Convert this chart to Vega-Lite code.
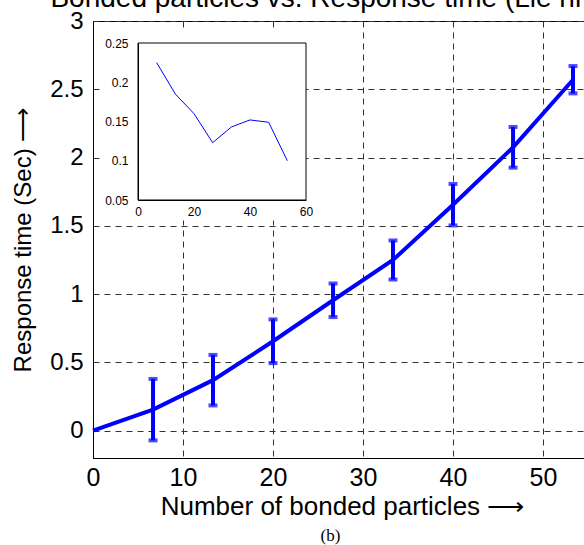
{
  "$schema": "https://vega.github.io/schema/vega-lite/v6.json",
  "width": 498,
  "height": 437,
  "autosize": {"type": "none"},
  "padding": {"left": 93, "top": 21, "right": 0, "bottom": 87},
  "background": "white",
  "title": {
    "text": "Bonded particles vs. Response time (Lie nm)",
    "font": "Liberation Sans",
    "fontSize": 28,
    "fontWeight": "normal",
    "color": "black",
    "baseline": "alphabetic",
    "offset": -26,
    "dx": -13,
    "frame": "group",
    "anchor": "middle"
  },
  "config": {
    "view": {"stroke": "black", "strokeWidth": 1},
    "font": "Liberation Sans"
  },
  "datasets": {
    "runs": [
      {"particles": 0, "time": 0, "err": null},
      {"particles": 6.67, "time": 0.154, "err": 0.225},
      {"particles": 13.33, "time": 0.37, "err": 0.185},
      {"particles": 20, "time": 0.655, "err": 0.16},
      {"particles": 26.67, "time": 0.955, "err": 0.123},
      {"particles": 33.33, "time": 1.25, "err": 0.143},
      {"particles": 40, "time": 1.655, "err": 0.152},
      {"particles": 46.67, "time": 2.075, "err": 0.149},
      {"particles": 53.33, "time": 2.57, "err": 0.1}
    ]
  },
  "data": {"name": "runs"},
  "resolve": {"scale": {"x": "independent", "y": "independent"}},
  "layer": [
    {
      "mark": {"type": "line", "color": "#0000ff", "strokeWidth": 4},
      "encoding": {
        "x": {
          "field": "particles", "type": "quantitative",
          "scale": {"domain": [0, 55.33], "nice": false, "zero": false},
          "axis": {
            "orient": "bottom",
            "values": [0, 10, 20, 30, 40, 50],
            "grid": true, "gridColor": "#333333", "gridDash": [6, 5], "gridWidth": 1,
            "domainColor": "black", "domainWidth": 1,
            "ticks": false,
            "labelFontSize": 25, "labelColor": "black", "labelPadding": 7, "labelFlush": false,
            "title": "Number of bonded particles ⟶",
            "titleFontSize": 26, "titleFontWeight": "normal", "titleColor": "black", "titlePadding": 3
          }
        },
        "y": {
          "field": "time", "type": "quantitative",
          "scale": {"domain": [-0.2, 3], "nice": false, "zero": false},
          "axis": {
            "orient": "left",
            "values": [0, 0.5, 1, 1.5, 2, 2.5, 3], "format": "~g",
            "grid": true, "gridColor": "#333333", "gridDash": [6, 5], "gridWidth": 1,
            "domainColor": "black", "domainWidth": 1,
            "ticks": false,
            "labelFontSize": 24, "labelColor": "black", "labelPadding": 10, "labelFlush": false,
            "title": "Response time (Sec) ⟶",
            "titleFontSize": 24, "titleFontWeight": "normal", "titleColor": "black", "titlePadding": 14
          }
        }
      }
    },
    {
      "data": {"values": [{}]},
      "mark": {"type": "rect", "fill": "white", "xOffset": 8, "yOffset": 7},
      "encoding": {
        "x": {"datum": 0, "type": "quantitative", "scale": {"domain": [0, 55.33], "nice": false, "zero": false}, "axis": null},
        "x2": {"datum": 23.7},
        "y": {"datum": 3, "type": "quantitative", "scale": {"domain": [-0.2, 3], "nice": false, "zero": false}, "axis": null},
        "y2": {"datum": 1.54}
      }
    },
    {
      "transform": [{"filter": "isValid(datum.err)"}],
      "mark": {"type": "errorbar", "color": "#0000ff", "thickness": 4, "ticks": {"size": 9, "thickness": 4, "color": "#0000ff"}},
      "encoding": {
        "x": {"field": "particles", "type": "quantitative", "scale": {"domain": [0, 55.33], "nice": false, "zero": false}, "axis": null},
        "y": {"field": "time", "type": "quantitative", "scale": {"domain": [-0.2, 3], "nice": false, "zero": false}, "axis": null},
        "yError": {"field": "err"}
      }
    },
    {
      "data": {"values": [{}]},
      "mark": {"type": "rect", "fill": "white", "stroke": "black", "strokeWidth": 1},
      "encoding": {
        "x": {"datum": 0, "type": "quantitative", "scale": {"domain": [0, 60], "range": [45, 213], "nice": false, "zero": false}, "axis": null},
        "x2": {"datum": 60},
        "y": {"datum": 0.05, "type": "quantitative", "scale": {"domain": [0.05, 0.25], "range": [179, 22], "nice": false, "zero": false}, "axis": null},
        "y2": {"datum": 0.25}
      }
    },
    {
      "transform": [{"filter": "isValid(datum.err)"}],
      "mark": {"type": "line", "color": "#0000ff", "strokeWidth": 1},
      "encoding": {
        "x": {
          "field": "particles", "type": "quantitative",
          "scale": {"domain": [0, 60], "range": [45, 213], "nice": false, "zero": false},
          "axis": {
            "orient": "bottom", "offset": -258, "zindex": 2,
            "values": [0, 20, 40, 60], "grid": false,
            "domainColor": "black", "ticks": false,
            "labelFontSize": 12, "labelColor": "black", "labelPadding": 6, "labelFlush": false,
            "title": "(b)", "titleFont": "Liberation Serif", "titleFontSize": 17,
            "titleFontWeight": "normal", "titleColor": "black",
            "titleX": 237, "titleY": 335, "titleBaseline": "middle", "titleAlign": "center", "titleAngle": 0
          }
        },
        "y": {
          "field": "err", "type": "quantitative",
          "scale": {"domain": [0.05, 0.25], "range": [179, 22], "nice": false, "zero": false},
          "axis": {
            "orient": "left", "offset": -45, "zindex": 2,
            "values": [0.05, 0.1, 0.15, 0.2, 0.25], "format": "~g", "grid": false,
            "domainColor": "black", "ticks": false,
            "labelFontSize": 12, "labelColor": "black", "labelPadding": 10, "labelFlush": false,
            "title": null
          }
        }
      }
    }
  ]
}
